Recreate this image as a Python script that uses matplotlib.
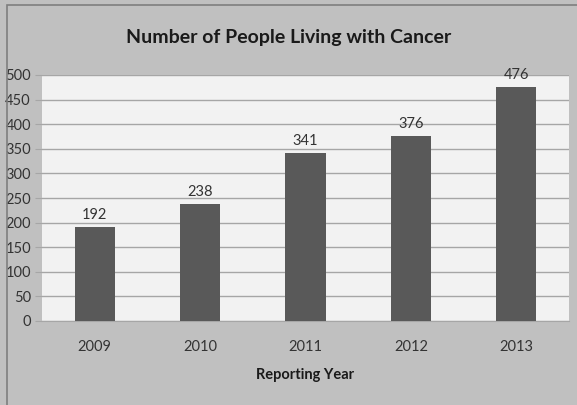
import matplotlib.pyplot as plt
from matplotlib.patches import Rectangle

years = ["2009", "2010", "2011", "2012", "2013"]
people = [192, 238, 341, 376, 476]

fam = ["Lato", "DejaVu Sans"]
plt.rcParams["font.family"] = fam

fig = plt.figure(figsize=(5.77, 4.05), dpi=100, facecolor="#c0c0c0")
# rahmen: links und oben sichtbar, rechts/unten ausserhalb des bildes
fig.patches.append(Rectangle((7 / 577, -0.05), 1.0, 1.05 - 5 / 405 + 0.0, transform=fig.transFigure,
                             fill=False, edgecolor="#7f7f7f", linewidth=1.2))
ax = fig.add_axes([42 / 577, 1 - 321 / 405, 527 / 577, 246 / 405])
ax.set_facecolor("#f2f2f2")

x = range(len(years))
bars = ax.bar(x, people, width=0.38, color="#595959", zorder=3)
for xi, v in zip(x, people):
    ax.text(xi, v + 10, str(v), ha="center", va="bottom", fontsize=10.5, color="#333333")

ax.set_xlim(-0.5, 4.5)
ax.set_ylim(0, 500)
ax.set_yticks(range(0, 501, 50))
ax.set_xticks(list(x))
ax.set_xticklabels(years)
ax.grid(axis="y", color="#a6a6a6", linewidth=1, zorder=0)
ax.tick_params(axis="y", length=5, color="#a6a6a6", labelsize=10.5, labelcolor="#333333", pad=3)
ax.tick_params(axis="x", length=0, labelsize=10.5, labelcolor="#333333", pad=14)
for s in ["top", "right", "left"]:
    ax.spines[s].set_visible(False)
ax.spines["bottom"].set_color("#a6a6a6")

fig.text(0.5, 1 - 38 / 405, "Number of People Living with Cancer", ha="center", va="center",
         fontsize=14, fontweight="bold", color="#1a1a1a")
fig.text(305 / 577, 1 - 375 / 405, "Reporting Year", ha="center", va="center",
         fontsize=10.5, fontweight="bold", color="#1a1a1a")

fig.savefig("out.png", dpi=100, facecolor=fig.get_facecolor())
